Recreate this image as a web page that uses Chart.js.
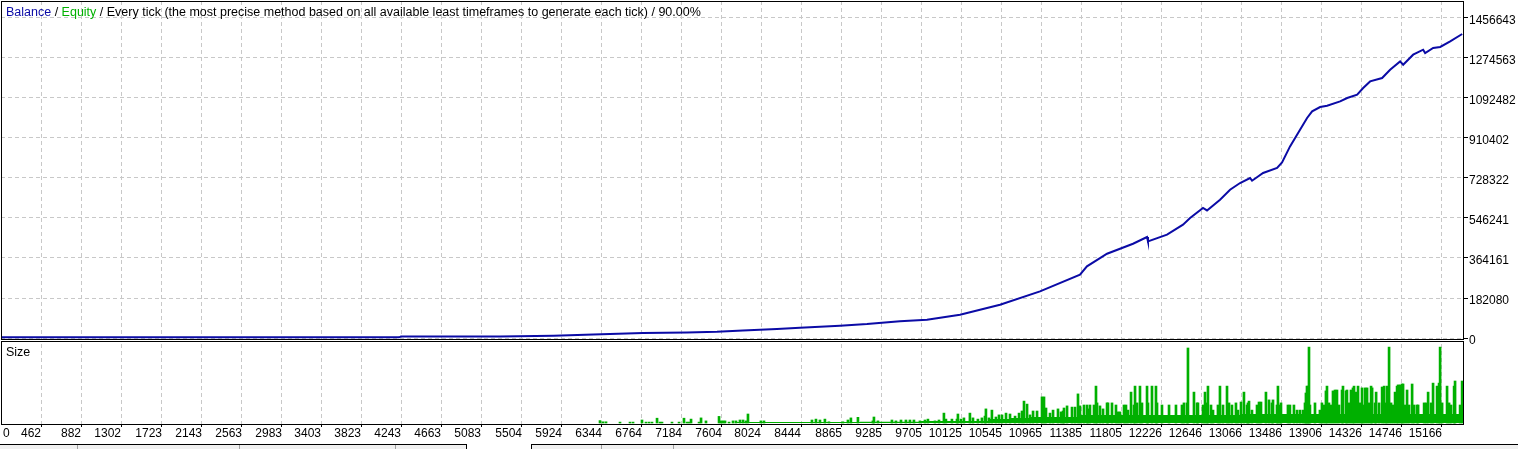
<!DOCTYPE html>
<html>
<head>
<meta charset="utf-8">
<script src="https://cdn.jsdelivr.net/npm/chart.js@4.4.1/dist/chart.umd.min.js"></script>
<style>
  html, body { margin: 0; padding: 0; background: #fff; }
  #wrap { position: relative; width: 1518px; height: 449px; overflow: hidden; }
  #tabs1, #tabs2 { position: absolute; top: 444px; height: 5px; background: #f0f0f0; border-top: 1px solid #000; }
  #tabs1 { left: 0; width: 466px; border-right: 1px solid #000; }
  #tabs2 { left: 531px; right: 0; border-left: 1px solid #000; }
  .sep { position: absolute; top: 0; bottom: 0; width: 1px; background: #a0a0a0; }
</style>
</head>
<body>
<div id="wrap">
  <canvas id="chart"></canvas>
  <div id="tabs1"><div class="sep" style="left:77px"></div><div class="sep" style="left:239px"></div><div class="sep" style="left:395px"></div></div>
  <div id="tabs2"><div class="sep" style="left:69px"></div><div class="sep" style="left:141px"></div></div>
</div>
<script>
// trade number -> balance
const balanceTrades = [37, 4217, 4238, 5278, 5840, 6258, 6779, 7241, 7556, 7829, 8186, 8428, 8848, 9132, 9478,
  9762, 10109, 10529, 10949, 11369, 11442, 11579, 11653, 11926, 12073, 12083, 12283, 12451, 12525, 12661,
  12703, 12840, 12945, 13050, 13155, 13176, 13292, 13439, 13491, 13575, 13680, 13754, 13807, 13891, 13964,
  14101, 14175, 14280, 14343, 14416, 14542, 14626, 14731, 14763, 14868, 14973, 14994, 15078, 15152, 15257, 15383];
const balanceValues = [3000, 3000, 6800, 7300, 10500, 16400, 22800, 25500, 28700, 34600, 41000, 46900, 56000, 63700, 76500,
  83300, 106000, 151600, 212100, 288000, 326000, 364000, 383700, 429000, 459800, 439700, 470200, 515700, 546200, 591800,
  580800, 629500, 675000, 705600, 728300, 716000, 751100, 773800, 799300, 872200, 948200, 1001400, 1031500, 1051500, 1057400,
  1077000, 1092500, 1107500, 1138000, 1168000, 1183500, 1221300, 1259100, 1244100, 1289600, 1312400, 1297300, 1320100, 1325000, 1350100, 1383800];

// usual position size (the solid green band), held from each trade on
const floorTrades = [7746, 9059, 9689, 10424, 10634, 10844, 11369, 13049, 15402];
const floorLots = [0.33, 0.4, 0.7, 1.3, 1.7, 2.0, 2.7, 3.0, 3.0];

// single trades that stick out above the band
const sizeTrades = [6328, 6360, 6391, 6538, 6643, 6675, 6769, 6811, 6843, 6874, 6927, 6958, 6979, 7084, 7158, 7210, 7242, 7263, 7284, 7368,
  7389, 7441, 7578, 7599, 7620, 7641, 7683, 7725, 7756, 7798, 7830, 7861, 7882, 8018, 8050, 8554, 8596,
  8638, 8690, 8732, 8879, 8932, 8963, 9037, 9194, 9205, 9247, 9394, 9436, 9489, 9541, 9583, 9625, 9688, 9741, 9772, 9846, 9888,
  9940, 9961, 10024, 10077, 10087, 10119, 10150, 10213, 10245, 10297, 10339, 10371, 10381, 10413, 10444, 10486, 10518,
  10550, 10592, 10634, 10687, 10729, 10760, 10781, 10813, 10844, 10876, 10918, 10970, 10991, 11012, 11054, 11086, 11138, 11170, 11191, 11201,
  11233, 11285, 11317, 11348, 11369, 11411, 11443, 11453, 11474, 11516, 11537, 11548, 11579, 11611, 11653, 11663, 11705, 11747, 11768, 11789,
  11831, 11852, 11873, 11905, 11936, 11947, 11968, 11999, 12020, 12073, 12083, 12125, 12167, 12178, 12230, 12304, 12377, 12440, 12461, 12493,
  12503, 12566, 12598, 12608, 12661, 12682, 12703, 12713, 12745, 12766, 12818,
  12839, 12871, 12913, 12934, 12965, 13007, 13028, 13060, 13091, 13123, 13133, 13144, 13175, 13228, 13249, 13270, 13322, 13354, 13385, 13396,
  13438, 13448, 13469, 13480, 13553, 13574, 13616, 13648, 13679, 13711, 13732, 13742, 13753, 13763, 13774, 13784, 13837, 13889, 13910, 13931,
  13952, 13963, 13984, 14005, 14026, 14047, 14068, 14089, 14121, 14131, 14163, 14173, 14194, 14215, 14236, 14247, 14268, 14289, 14310, 14331,
  14342, 14363, 14384, 14405, 14426, 14437, 14468, 14479, 14510, 14542, 14563, 14584, 14594, 14615, 14636, 14657, 14678, 14699, 14710, 14731,
  14752, 14762, 14783, 14804, 14825, 14857, 14878, 14909, 14920, 14983, 15004, 15025, 15056, 15077, 15119, 15140, 15151, 15172, 15224, 15245,
  15266, 15298, 15308, 15361, 15382];
const sizeLots = [0.8, 0.4, 0.4, 0.3, 0.3, 0.3, 1.0, 0.3, 0.3, 0.3, 1.6, 0.3, 0.3, 0.3, 0.3, 1.6, 0.3, 0.3, 1.3, 0.3,
  1.7, 0.7, 2.2, 0.7, 0.7, 0.7, 0.3, 0.7, 0.7, 1.0, 1.0, 0.7, 3.0, 0.7, 0.7, 1.0, 1.3,
  1.0, 1.3, 0.4, 0.4, 1.0, 1.7, 1.9, 0.7, 2.0, 0.7, 1.0, 0.7, 1.0, 1.0, 1.0, 1.0, 0.7, 1.0, 1.3, 0.7, 1.0,
  3.3, 1.3, 1.3, 1.3, 3.0, 1.3, 1.7, 3.3, 1.7, 1.3, 1.7, 2.3, 4.7, 1.7, 4.3, 2.0, 2.7,
  2.7, 3.3, 3.0, 2.3, 3.3, 4.0, 7.3, 6.3, 2.7, 4.0, 4.0, 8.7, 8.7, 5.0, 3.3, 4.3, 4.7, 3.7, 4.0, 5.0,
  5.7, 5.3, 5.3, 9.7, 5.7, 6.0, 6.0, 4.7, 6.0, 6.0, 12.3, 6.7, 5.7, 4.7, 6.7, 6.7, 6.7, 6.0, 3.7, 3.7,
  6.0, 6.0, 4.3, 10.3, 6.0, 12.3, 6.7, 12.3, 6.7, 12.3, 6.7, 12.3, 12.3, 6.7, 6.0, 6.0, 6.0, 6.0, 6.7, 6.7,
  25.0, 10.3, 6.7, 6.7, 6.0, 10.3, 6.7, 12.3, 6.0, 4.3, 6.0,
  12.3, 6.0, 12.3, 6.7, 6.0, 6.7, 4.3, 7.0, 10.3, 6.0, 6.7, 7.3, 4.3, 6.0, 7.0, 7.0, 10.3, 7.7, 6.7, 7.7,
  6.0, 12.3, 6.0, 6.7, 6.0, 6.0, 6.0, 4.3, 4.3, 4.3, 6.7, 10.0, 12.3, 12.3, 25.3, 6.0, 6.7, 4.3, 6.7, 6.0,
  10.7, 12.3, 6.7, 6.0, 10.7, 11.0, 11.0, 6.0, 11.0, 12.3, 10.7, 11.0, 6.7, 11.0, 11.7, 12.3, 10.3, 12.3, 6.7, 11.7,
  6.0, 11.7, 11.7, 6.7, 12.3, 11.7, 6.7, 10.3, 6.7, 12.0, 12.3, 6.7, 12.3, 25.3, 6.7, 6.0, 10.3, 12.3, 12.7, 12.7,
  13.0, 13.0, 6.0, 11.0, 6.0, 13.0, 6.0, 6.0, 6.0, 6.7, 6.7, 10.3, 6.7, 13.3, 12.3, 13.3, 25.3, 6.7, 12.3, 6.7,
  6.0, 12.3, 14.0, 6.0, 14.0];

const xTickValues = [0, 462, 882, 1302, 1723, 2143, 2563, 2983, 3403, 3823, 4243, 4663, 5083, 5504, 5924, 6344, 6764, 7184,
  7604, 8024, 8444, 8865, 9285, 9705, 10125, 10545, 10965, 11385, 11805, 12226, 12646, 13066, 13486, 13906, 14326, 14746, 15166];
const yTickValues = [0, 182080, 364161, 546241, 728322, 910402, 1092482, 1274563, 1456643];
const yTickLabels = ["0", "182080", "364161", "546241", "728322", "910402", "1092482", "1274563", "1456643"];

const BLUE = "#0b0ba6";
const GREEN = "#00b000";
const FONT = "12px 'Liberation Sans', Arial, sans-serif";
const TITLE_FONT = "12.5px 'Liberation Sans', Arial, sans-serif";

Chart.defaults.font.family = "'Liberation Sans', Arial, sans-serif";
Chart.defaults.font.size = 12;
Chart.defaults.color = "#000";

// no extra room for half labels, the panes go right to the edges
const noPad = (w, h) => (s) => {
  if (w) s.width = w;
  if (h) s.height = h;
  s.paddingTop = 0; s.paddingBottom = 0; s.paddingLeft = 0; s.paddingRight = 0;
};

// frames, header texts and the x labels (MT4 puts them left of the grid line)
const mt4Frame = {
  id: "mt4Frame",
  afterDraw(chart) {
    const { ctx, chartArea: a, scales } = chart;
    const mid = scales.y.bottom;
    ctx.save();
    ctx.fillStyle = "#fff";
    ctx.fillRect(a.left, mid, a.right - a.left, 2);
    ctx.strokeStyle = "#000";
    ctx.lineWidth = 1;
    ctx.strokeRect(a.left + 0.5, a.top + 0.5, a.right - a.left - 1, mid - a.top);
    ctx.strokeRect(a.left + 0.5, mid + 2.5, a.right - a.left - 1, a.bottom - mid - 2);

    ctx.textBaseline = "middle";
    ctx.textAlign = "left";
    ctx.font = TITLE_FONT;
    let x = a.left + 5;
    const parts = [["Balance", BLUE], [" / ", "#000"], ["Equity", GREEN],
      [" / Every tick (the most precise method based on all available least timeframes to generate each tick) / 90.00%", "#000"]];
    parts.forEach(([t, c]) => {
      ctx.fillStyle = c;
      ctx.fillText(t, x, a.top + 12);
      x += ctx.measureText(t).width;
    });
    ctx.fillStyle = "#000";
    ctx.fillText("Size", a.left + 5, mid + 14);

    ctx.font = FONT;
    const sx = scales.x;
    xTickValues.forEach((v) => {
      if (v < sx.min) {
        ctx.textAlign = "left";
        ctx.fillText(String(v), a.left + 2, a.bottom + 10);
      } else {
        ctx.textAlign = "right";
        ctx.fillText(String(v), Math.round(sx.getPixelForValue(v)), a.bottom + 10);
      }
    });
    ctx.restore();
  }
};

const gridGray = "#c8c8c8";

new Chart(document.getElementById("chart"), {
  data: {
    datasets: [
      {
        type: "line",
        label: "Balance",
        data: balanceTrades.map((t, i) => ({ x: t, y: balanceValues[i] })),
        yAxisID: "y",
        borderColor: BLUE,
        borderWidth: 2,
        pointRadius: 0,
        tension: 0,
      },
      {
        type: "line",
        label: "Size band",
        data: floorTrades.map((t, i) => ({ x: t, y: floorLots[i] })),
        yAxisID: "y2",
        stepped: true,
        fill: "origin",
        backgroundColor: GREEN,
        borderWidth: 0,
        pointRadius: 0,
      },
      {
        type: "bar",
        label: "Size",
        data: sizeTrades.map((t, i) => ({ x: t, y: sizeLots[i] })),
        yAxisID: "y2",
        backgroundColor: GREEN,
        barThickness: 2,
      },
    ],
  },
  options: {
    responsive: true,
    maintainAspectRatio: false,
    animation: false,
    events: [],
    layout: { padding: { left: 1, top: 1, right: 0, bottom: 0 } },
    plugins: { legend: { display: false }, tooltip: { enabled: false } },
    scales: {
      x: {
        type: "linear",
        position: "bottom",
        offset: false,
        min: 37,
        max: 15402,
        afterBuildTicks: (s) => { s.ticks = xTickValues.filter((v) => v >= s.min).map((v) => ({ value: v })); },
        afterFit: noPad(0, 25),
        ticks: { display: false, autoSkip: false },
        grid: { offset: false, color: gridGray, tickColor: "#000", tickLength: 3, tickBorderDash: [] },
        border: { display: false, dash: [4, 3] },
      },
      y: {
        type: "linear",
        position: "right",
        stack: "panes",
        stackWeight: 338,
        min: -4552,
        max: 1534024,
        afterBuildTicks: (s) => { s.ticks = yTickValues.map((v) => ({ value: v })); },
        afterFit: noPad(54, 0),
        ticks: { autoSkip: false, padding: 1, labelOffset: 3, callback: (v, i) => yTickLabels[i] },
        grid: { color: gridGray, tickColor: "#000", tickLength: 4, tickBorderDash: [] },
        border: { display: false, dash: [4, 3] },
      },
      y2: {
        type: "linear",
        position: "right",
        stack: "panes",
        stackWeight: 85,
        min: -0.3333,
        max: 28,
        afterFit: noPad(54, 0),
        ticks: { display: false },
        grid: { display: false },
        border: { display: false },
      },
    },
  },
  plugins: [mt4Frame],
});
</script>
</body>
</html>
